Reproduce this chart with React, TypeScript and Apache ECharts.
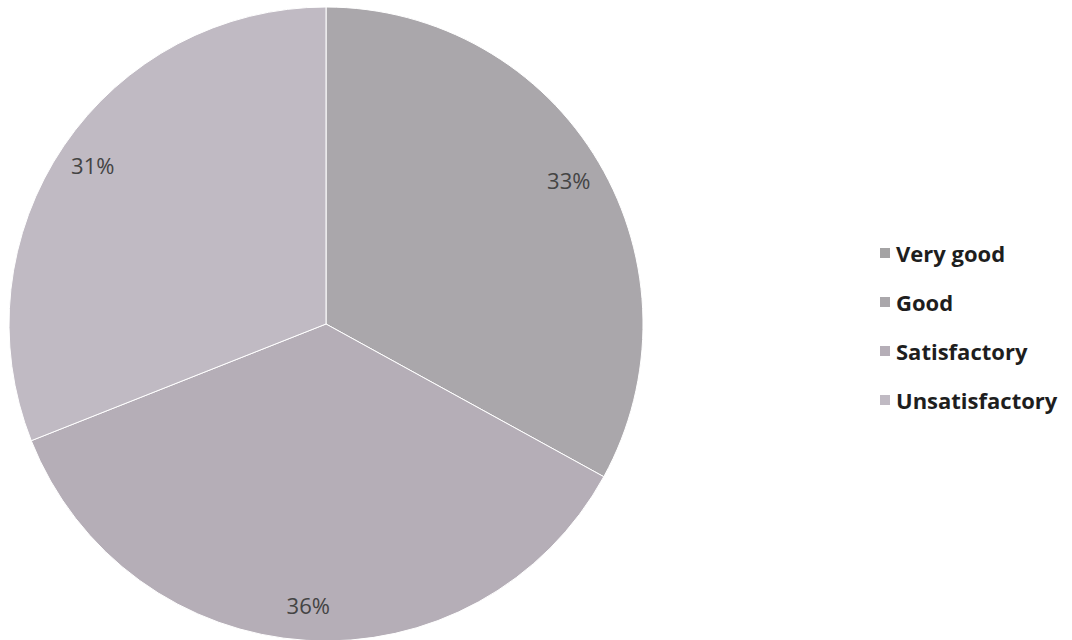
import React, { useEffect, useRef } from "react";
import * as echarts from "echarts";

const categories = ["Very good", "Good", "Satisfactory", "Unsatisfactory"];
const values = [0, 33, 36, 31];
const colors = ["#a4a3a4", "#aaa7ab", "#b5aeb7", "#c0bac3"];

export default function App() {
  const ref = useRef<HTMLDivElement>(null);
  useEffect(() => {
    const chart = echarts.init(ref.current!, null, { renderer: "svg" });
    const mainData = categories.map((name, i) => ({
      name,
      value: values[i],
      itemStyle: { color: colors[i] },
    }));
    const labelData = categories.map((name, i) => ({
      name: name + " ",
      value: values[i],
      label: { show: values[i] > 0 },
    }));
    chart.setOption({
      animation: false,
      backgroundColor: "#ffffff",
      legend: {
        data: categories,
        orient: "vertical",
        left: 873,
        top: 237,
        itemWidth: 12,
        itemHeight: 12,
        itemGap: 27,
        icon: "rect",
        textStyle: {
          fontFamily: "Open Sans",
          fontWeight: "bold",
          fontSize: 22,
          lineHeight: 22,
          color: "#1e1e1e",
        },
      },
      series: [
        {
          type: "pie",
          center: [326, 324],
          radius: [0, 317],
          startAngle: 90,
          clockwise: true,
          silent: true,
          label: { show: false },
          labelLine: { show: false },
          itemStyle: { borderColor: "#ffffff", borderWidth: 1 },
          data: mainData,
        },
        {
          type: "pie",
          center: [326, 324],
          radius: [244, 314],
          startAngle: 90,
          clockwise: true,
          silent: true,
          itemStyle: { color: "transparent" },
          labelLine: { show: false },
          label: {
            position: "inside",
            formatter: (p: any) => Math.round(p.value) + "%",
            fontFamily: "Open Sans",
            fontSize: 22,
            color: "#444444",
          },
          data: labelData,
        },
      ],
    });
    return () => chart.dispose();
  }, []);
  return (
    <div
      ref={ref}
      style={{ position: "fixed", left: 0, top: 0, width: 1072, height: 640 }}
    />
  );
}
